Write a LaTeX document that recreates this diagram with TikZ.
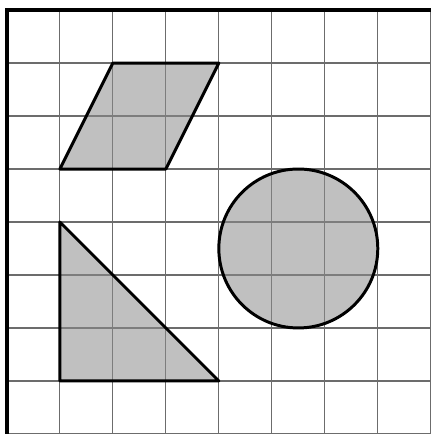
\documentclass[tikz,border=0pt]{standalone}
\usepackage{tikz}

\begin{document}
\begin{tikzpicture}[
    gridline/.style={draw=gray!85!black, line width=0.6pt},
    frame/.style={draw=black, line width=1.8pt},
    figure/.style={draw=black, fill=gray!90, fill opacity=0.55, draw opacity=1, line width=1.6pt, line join=round}
]

\useasboundingbox (-0.13, -0.02) rectangle (8.02, 8.19);

% squared paper
\draw[gridline] (0,0) grid (8,8);
\draw[frame] (0,0) -- (0,8) -- (8,8);

% parallelogram
\draw[figure] (1,5) -- (3,5) -- (4,7) -- (2,7) -- cycle;

% right triangle
\draw[figure] (1,4) -- (1,1) -- (4,1) -- cycle;

% circle
\draw[figure] (5.5,3.5) circle (1.5);

\end{tikzpicture}
\end{document}
